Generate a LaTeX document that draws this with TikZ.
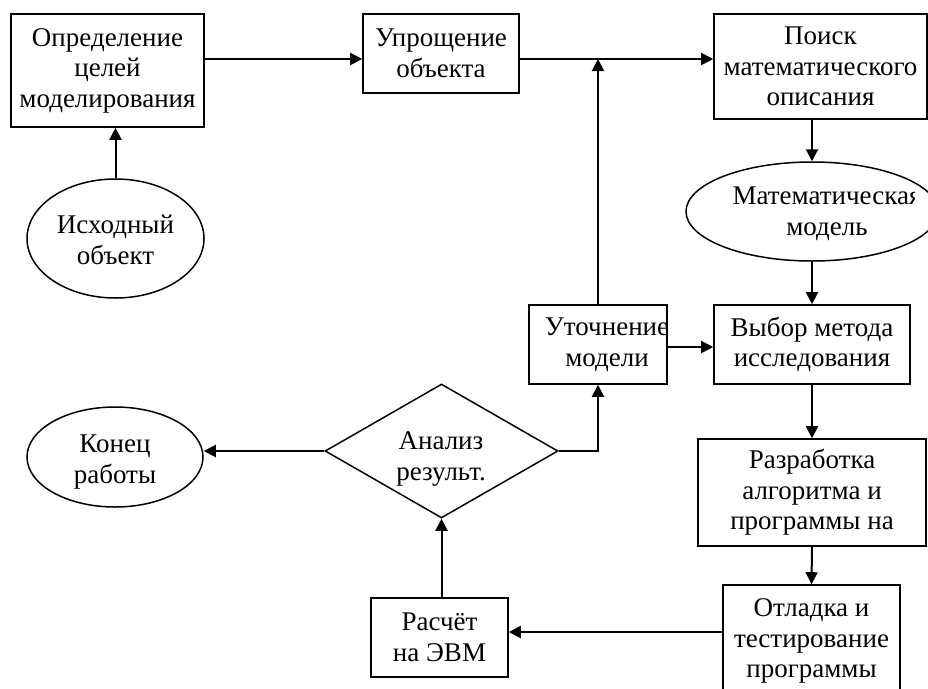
\documentclass[tikz,border=0pt]{standalone}
\usepackage{fontspec}
\setmainfont{Liberation Serif}
\usetikzlibrary{shapes.geometric,arrows.meta}
\begin{document}
\begin{tikzpicture}[x=1pt,y=-1pt,
  every node/.style={font=\fontsize{27}{30.5}\selectfont, align=center, inner sep=0pt},
  stepbox/.style={draw, line width=1.6pt, rectangle},
  oval/.style={draw, line width=1.5pt, ellipse},
  decision/.style={draw, line width=1.5pt, diamond},
  conn/.style={line width=2pt, -{Triangle[length=12pt,width=12pt]}},
  plain/.style={line width=2pt}]
\useasboundingbox (0,0) rectangle (928,688);
\clip (0,0) rectangle (928,688);
% nodes
\node[stepbox, minimum width=193pt, minimum height=113pt] (def) at (107.5,70.5) {Определение\\целей\\моделирования};
\node[stepbox, minimum width=156pt, minimum height=79pt] (upr) at (441,53.5) {Упрощение\\объекта};
\node[stepbox, minimum width=213pt, minimum height=105pt] (poisk) at (820.5,66.5) {Поиск\\математического\\описания};
\node[oval, minimum width=177pt, minimum height=119pt] (ish) at (115.5,238.5) {};
\node (ishT) at (115.5,240) {Исходный\\объект};
\node[oval, minimum width=252pt, minimum height=99pt] (math) at (812,211.5) {};
\begin{scope}
\clip (690,150) rectangle (914,270);
\node (mathT) at (827,214) {Математическая\\модель};
\end{scope}
\node[stepbox, minimum width=138pt, minimum height=79pt] (utoch) at (598,344.5) {};
\node (utochT) at (607,345) {Уточнение\\модели};
\node[stepbox, minimum width=196pt, minimum height=79pt] (vybor) at (812,344.5) {Выбор метода\\исследования};
\node[decision, minimum width=233pt, minimum height=134pt] (an) at (441.5,451) {};
\node (anT) at (441,459) {Анализ\\результ.};
\node[oval, minimum width=176pt, minimum height=100pt] (konec) at (115,457) {};
\node (konecT) at (115,462) {Конец\\работы};
\node[stepbox, minimum width=228pt, minimum height=107pt] (razr) at (812,492.5) {Разработка\\алгоритма и\\программы на};
\node[stepbox, minimum width=177pt, minimum height=112pt] (otl) at (811.5,641) {Отладка и\\тестирование\\программы};
\node[stepbox, minimum width=137pt, minimum height=79pt] (rasch) at (439.5,637.5) {Расчёт\\на ЭВМ};
% row coordinates
\coordinate (r1) at (0,59);
\coordinate (r2) at (0,347);
\coordinate (r3) at (0,632);
% connectors
\draw[conn] (ish.north) -- (ish.north |- def.south);
\draw[conn] (def.east |- r1) -- (upr.west |- r1);
\draw[conn] (upr.east |- r1) -- (poisk.west |- r1);
\draw[conn] (utoch.north) -- (utoch.north |- r1);
\draw[conn] (math.north |- poisk.south) -- (math.north);
\draw[conn] (math.south) -- (vybor.north);
\draw[conn] (utoch.east |- r2) -- (vybor.west |- r2);
\draw[conn] (vybor.south) -- (razr.north);
\draw[conn] (razr.south) -- (otl.north);
\draw[conn] (otl.west |- r3) -- (rasch.east |- r3);
\draw[conn] (an.south |- rasch.north) -- (an.south);
\draw[conn] (an.east) -| (utoch.south);
\draw[conn] (an.west) -- (an.west -| konec.east);
\end{tikzpicture}
\end{document}
